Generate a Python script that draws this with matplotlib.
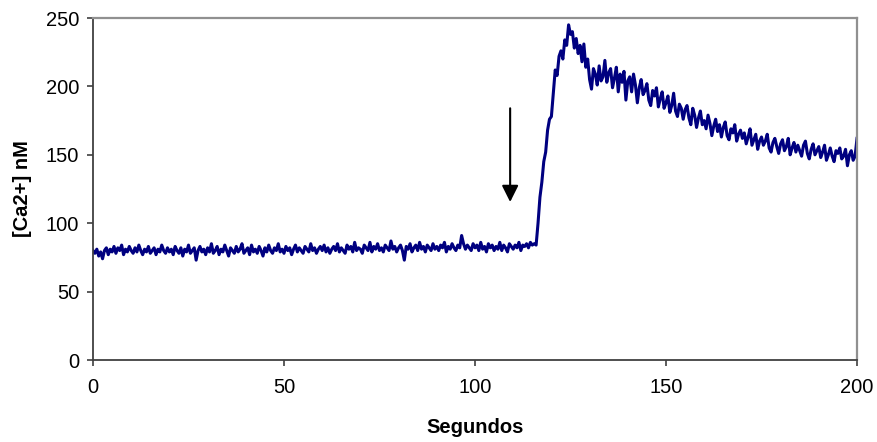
import numpy as np
import matplotlib
matplotlib.use("Agg")
import matplotlib.pyplot as plt

plt.rcParams['font.family'] = ['Liberation Sans', 'DejaVu Sans']

baseline = [
    80,78,81,76,79,74,80,82,77,81,79,83,78,82,80,84,77,81,79,83,
    80,78,82,79,84,80,77,81,79,83,78,80,82,77,81,79,84,80,78,82,
    79,81,77,83,80,78,82,76,81,79,84,78,80,82,73,80,83,79,81,77,
    82,79,85,78,80,83,77,81,79,84,80,76,82,80,78,83,79,81,85,78,
    80,82,77,84,79,81,78,83,80,76,82,79,84,80,78,82,80,85,79,81,
    78,83,80,82,77,81,84,79,82,80,78,83,81,79,85,80,82,78,81,83,
    80,84,79,82,78,81,83,80,85,79,82,80,78,84,81,83,79,86,80,82,
    81,78,84,82,80,86,79,83,81,85,80,82,79,84,82,80,87,81,83,79,
    82,84,80,73,83,81,85,79,82,84,80,86,81,83,79,84,82,80,85,81,
    83,80,84,82,86,79,83,81,85,82,80,84,82,91,85,81,84,82,80,85,
    82,84,80,86,81,83,79,85,82,84,80,83,81,86,80,84,82,79,85,83,
    81,84,82,86,80,84,83,85,82,86,84,85,
]
rise_peak = [
    84,100,119,130,145,152,168,176,178,195,212,208,222,226,220,234,230,245,
    238,240,228,235,224,230,218,231,214,220,
]
decay = [
    205,198,213,209,201,215,204,207,219,203,
    210,213,199,206,214,196,209,203,211,190,
    204,207,196,209,201,188,199,205,194,197,
    202,190,186,197,193,199,185,191,196,184,
    188,193,181,186,195,182,178,187,184,176,
    183,186,177,172,184,179,170,177,182,172,
    175,169,179,173,164,171,176,167,172,163,
    170,174,164,161,169,166,172,160,165,168,
    162,166,158,163,169,157,161,165,154,160,
    163,157,160,165,155,152,159,162,156,151,
    158,161,153,156,162,150,155,159,152,157,
    153,149,157,160,151,147,154,158,150,153,
    156,148,152,157,146,150,155,149,145,153,
    151,155,147,149,154,142,150,153,146,149,
    162,
]
ca = np.array(baseline + rise_peak + decay, dtype=float)
sample_step = 0.5
seconds = np.arange(len(ca)) * sample_step

x_ticks = [0, 50, 100, 150, 200]
y_ticks = [0, 50, 100, 150, 200, 250]

arrow_x = 109.2
arrow_tail = 184
arrow_tip = 115.5

fig = plt.figure(figsize=(8.77, 4.42), dpi=100)
ax = fig.add_axes([93/877, 82/442, 764/877, 342/442])

ax.plot(seconds, ca, color='#000080', lw=2.2)

ax.annotate('', xy=(arrow_x, arrow_tip), xytext=(arrow_x, arrow_tail),
            arrowprops=dict(arrowstyle='-|>,head_length=10,head_width=5',
                            mutation_scale=1, color='black', lw=1.5,
                            shrinkA=0, shrinkB=0))

ax.set_xlim(0, 200)
ax.set_ylim(0, 250)
ax.set_xticks(x_ticks)
ax.set_yticks(y_ticks)
ax.tick_params(axis='both', direction='out', length=4, width=1.2,
               color='#404040', labelsize=14.5, pad=6)
ax.tick_params(axis='x', pad=9)

for side in ['left', 'bottom']:
    ax.spines[side].set_color('#404040')
    ax.spines[side].set_linewidth(1.3)
for side in ['top', 'right']:
    ax.spines[side].set_color('#909090')
    ax.spines[side].set_linewidth(1.6)

ax.set_xlabel('Segundos', fontsize=14.5, fontweight='bold', labelpad=15)
ax.set_ylabel('[Ca2+] nM', fontsize=14.5, fontweight='bold', labelpad=10)

fig.savefig('out.png', dpi=100)
